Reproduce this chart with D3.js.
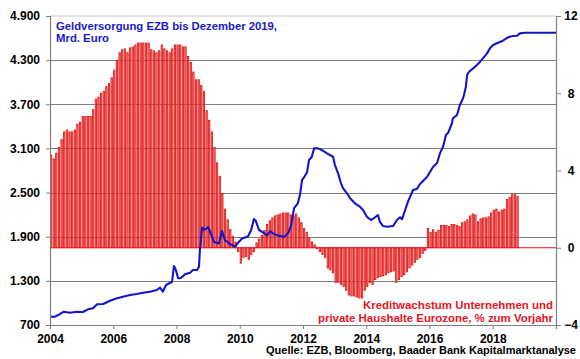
<!DOCTYPE html>
<html>
<head>
<meta charset="utf-8">
<script src="https://cdn.jsdelivr.net/npm/d3@7"></script>
<style>
  html, body { margin: 0; padding: 0; background: #ffffff; }
  svg { display: block; }
  text { font-family: "Liberation Sans", Arial, sans-serif; font-weight: bold; }
</style>
</head>
<body>
<svg id="chart" width="580" height="359"></svg>
<script>
// ---------- DATA ----------
// Credit growth (% yoy), monthly from Jan 2004
const barStartYear = 2004;
const creditGrowth = [
  4.8, 4.6, 4.9, 5.2, 5.6, 6.0, 6.1, 6.0, 6.0, 6.1, 6.4, 6.5,
  6.8, 6.8, 6.8, 6.8, 7.15, 7.7, 7.8, 8.0, 8.1, 8.35, 8.5, 8.8,
  9.2, 9.7, 10.1, 10.25, 10.3, 10.1, 10.35, 10.4, 10.5, 10.6, 10.6, 10.6,
  10.6, 10.6, 10.25, 10.2, 10.1, 10.2, 10.5, 10.3, 10.2, 10.1, 10.3, 10.5,
  10.5, 10.5, 10.4, 10.4, 9.9, 9.6, 9.1, 8.7, 8.7, 8.4, 8.1, 7.1,
  6.6, 6.0, 5.2, 4.4, 3.7, 2.8, 2.0, 1.45, 0.95, 0.6, 0.3, -0.2,
  -0.8, -0.5, -0.45, -0.6, -0.35, -0.2, 0.25, 0.45, 0.65, 0.9, 1.2, 1.4,
  1.55, 1.65, 1.7, 1.75, 1.8, 1.8, 1.8, 1.7, 1.65, 1.75, 1.55, 1.3,
  1.0, 0.8, 0.5, 0.3, 0.15, -0.05, -0.2, -0.35, -0.5, -1.05, -1.15, -1.3,
  -1.8, -1.8, -1.9, -2.0, -2.2, -2.45, -2.5, -2.5, -2.55, -2.6, -2.6, -2.2,
  -2.0, -1.8, -1.9, -1.65, -1.55, -1.5, -1.45, -1.4, -1.3, -1.25, -1.2, -1.8,
  -1.65, -1.5, -1.4, -1.25, -1.05, -0.9, -0.75, -0.6, -0.5, -0.3, -0.15, 1.0,
  0.8, 0.93, 0.8, 0.9, 1.15, 1.15, 1.15, 1.1, 1.2, 1.2, 1.15, 1.1,
  1.3, 1.35, 1.45, 1.65, 1.75, 1.7, 1.35, 1.5, 1.55, 1.55, 1.6, 1.8,
  1.95, 2.0, 1.85, 1.95, 2.0, 2.5, 2.6, 2.75, 2.8, 2.65
];

// ECB money supply (Mrd. Euro), dates as decimal years
const lineYears = [
  2004.00, 2004.16, 2004.32, 2004.44, 2004.63, 2004.85, 2005.04, 2005.20, 2005.36, 2005.49,
  2005.68, 2005.90, 2006.12, 2006.31, 2006.53, 2006.75, 2006.94, 2007.16, 2007.38, 2007.48,
  2007.57, 2007.67, 2007.86, 2007.92, 2007.98, 2008.05, 2008.14, 2008.27, 2008.43, 2008.52,
  2008.65, 2008.71, 2008.74, 2008.81, 2008.87, 2008.93, 2009.00, 2009.09, 2009.19, 2009.34,
  2009.44, 2009.53, 2009.69, 2009.85, 2009.94, 2010.07, 2010.26, 2010.36, 2010.45, 2010.51,
  2010.61, 2010.74, 2010.86, 2010.96, 2011.08, 2011.21, 2011.40, 2011.53, 2011.62, 2011.72,
  2011.84, 2011.91, 2011.97, 2012.03, 2012.13, 2012.19, 2012.28, 2012.35, 2012.47, 2012.60,
  2012.76, 2012.95, 2013.01, 2013.11, 2013.20, 2013.27, 2013.39, 2013.49, 2013.64, 2013.80,
  2013.90, 2014.02, 2014.15, 2014.28, 2014.37, 2014.43, 2014.53, 2014.66, 2014.85, 2014.97,
  2015.07, 2015.13, 2015.23, 2015.32, 2015.48, 2015.60, 2015.70, 2015.92, 2016.11, 2016.24,
  2016.33, 2016.43, 2016.52, 2016.59, 2016.71, 2016.74, 2016.87, 2016.96, 2017.06, 2017.09,
  2017.15, 2017.19, 2017.25, 2017.38, 2017.50, 2017.60, 2017.69, 2017.82, 2017.91, 2018.01,
  2018.17, 2018.32, 2018.48, 2018.64, 2018.77, 2018.86, 2019.02, 2020.00
];
const lineValues = [
  813, 813, 850, 881, 867, 881, 877, 913, 927, 981,
  985, 1030, 1063, 1085, 1108, 1121, 1139, 1153, 1176, 1207,
  1153, 1244, 1288, 1502, 1447, 1335, 1339, 1389, 1411, 1447,
  1447, 1492, 1719, 2025, 1998, 2005, 2032, 1937, 1828, 1808,
  1977, 1855, 1801, 1764, 1814, 1876, 1903, 1991, 2141, 2113,
  1991, 1957, 1916, 1977, 1937, 1916, 1896, 1950, 2045, 2290,
  2358, 2480, 2671, 2705, 2779, 2942, 2987, 3101, 3101, 3078,
  3033, 2987, 2874, 2762, 2626, 2558, 2490, 2422, 2354, 2308,
  2263, 2172, 2127, 2164, 2195, 2104, 2045, 2036, 2045, 2127,
  2164, 2136, 2263, 2376, 2535, 2548, 2616, 2711, 2847, 2901,
  3033, 3123, 3282, 3313, 3441, 3509, 3554, 3690, 3781, 3826,
  3939, 4098, 4142, 4188, 4233, 4279, 4324, 4392, 4460, 4505,
  4536, 4564, 4610, 4628, 4632, 4664, 4672, 4672
];

const leftTicks = [700, 1300, 1900, 2500, 3100, 3700, 4300, 4900];
const leftTickLabels = ["700", "1.300", "1.900", "2.500", "3.100", "3.700", "4.300", "4.900"];
const rightTicks = [-4, 0, 4, 8, 12];
const xTicks = [2004, 2006, 2008, 2010, 2012, 2014, 2016, 2018];

const titleLines = ["Geldversorgung EZB bis Dezember 2019,", "Mrd. Euro"];
const noteLines = ["Kreditwachstum Unternehmen und", "private Haushalte Eurozone, % zum Vorjahr"];
const sourceText = "Quelle: EZB, Bloomberg, Baader Bank Kapitalmarktanalyse";

// ---------- CHART ----------
const svg = d3.select("#chart");
const L = 50, R = 556, T = 16, B = 325;

const x = d3.scaleLinear().domain([2004, 2020]).range([L, R]);
const yL = d3.scaleLinear().domain([700, 4900]).range([B, T]);
const yR = d3.scaleLinear().domain([-4, 12]).range([B, T]);

// top border
svg.append("line").attr("x1", L).attr("x2", R).attr("y1", T).attr("y2", T)
  .attr("stroke", "#c8c8c8").attr("stroke-width", 1);

// gridlines
svg.append("g").selectAll("line")
  .data(leftTicks.filter(d => d > 700 && d < 4900))
  .join("line")
  .attr("x1", L).attr("x2", R)
  .attr("y1", d => Math.round(yL(d)) + 0.5).attr("y2", d => Math.round(yL(d)) + 0.5)
  .attr("stroke", "#7f7f7f").attr("stroke-width", 1);

// bars
const step = x(2004 + 1 / 12) - x(2004);
svg.append("g").selectAll("rect")
  .data(creditGrowth)
  .join("rect")
  .attr("x", (d, i) => x(barStartYear + i / 12) + 0.4)
  .attr("width", step - 1.3)
  .attr("y", d => Math.min(yR(d), yR(0)))
  .attr("height", d => Math.abs(yR(d) - yR(0)))
  .attr("fill", "#f58a8a")
  .attr("stroke", "#e00a0a")
  .attr("stroke-width", 0.8);

// zero line
svg.append("line").attr("x1", L).attr("x2", R)
  .attr("y1", yR(0)).attr("y2", yR(0))
  .attr("stroke", "#e8141c").attr("stroke-width", 1.2);

// blue line
const lineData = lineYears.map((t, i) => [t, lineValues[i]]);
svg.append("path")
  .datum(lineData)
  .attr("fill", "none")
  .attr("stroke", "#1414c8")
  .attr("stroke-width", 2.1)
  .attr("stroke-linejoin", "round")
  .attr("d", d3.line().x(d => x(d[0])).y(d => yL(d[1])));

// axes
const axisColor = "#808080";
const gL = svg.append("g").attr("transform", `translate(${L},0)`)
  .call(d3.axisLeft(yL).tickValues(leftTicks).tickSize(4).tickPadding(6)
    .tickFormat((d, i) => leftTickLabels[i]));
const gR = svg.append("g").attr("transform", `translate(${R},0)`)
  .call(d3.axisRight(yR).tickValues(rightTicks).tickSize(5).tickPadding(9));
const gB = svg.append("g").attr("transform", `translate(0,${B})`)
  .call(d3.axisBottom(x).tickValues(xTicks).tickSize(4).tickPadding(5).tickFormat(d3.format("d")));

[gL, gR, gB].forEach(g => {
  g.select(".domain").attr("stroke", axisColor).attr("stroke-width", 1.2);
  g.selectAll(".tick line").attr("stroke", axisColor);
  g.selectAll(".tick text").attr("fill", "#000").attr("font-size", 12)
    .attr("font-family", "'Liberation Sans', Arial, sans-serif").attr("font-weight", "bold");
});
gR.selectAll(".tick text").attr("text-anchor", "middle").attr("x", 15);

// title
svg.append("text").attr("x", 56).attr("y", 30).attr("fill", "#1a1ac8").attr("font-size", 11)
  .attr("textLength", 221).attr("lengthAdjust", "spacingAndGlyphs").text(titleLines[0]);
svg.append("text").attr("x", 56).attr("y", 42).attr("fill", "#1a1ac8").attr("font-size", 11)
  .attr("textLength", 53).attr("lengthAdjust", "spacingAndGlyphs").text(titleLines[1]);

// note
svg.append("text").attr("x", 363).attr("y", 309).attr("fill", "#e8141c").attr("font-size", 11)
  .attr("textLength", 190).attr("lengthAdjust", "spacingAndGlyphs").text(noteLines[0]);
svg.append("text").attr("x", 318).attr("y", 322).attr("fill", "#e8141c").attr("font-size", 11)
  .attr("textLength", 235).attr("lengthAdjust", "spacingAndGlyphs").text(noteLines[1]);

// source
svg.append("text").attr("x", 576).attr("y", 354).attr("text-anchor", "end")
  .attr("fill", "#000").attr("font-size", 11)
  .text(sourceText);
</script>
</body>
</html>
